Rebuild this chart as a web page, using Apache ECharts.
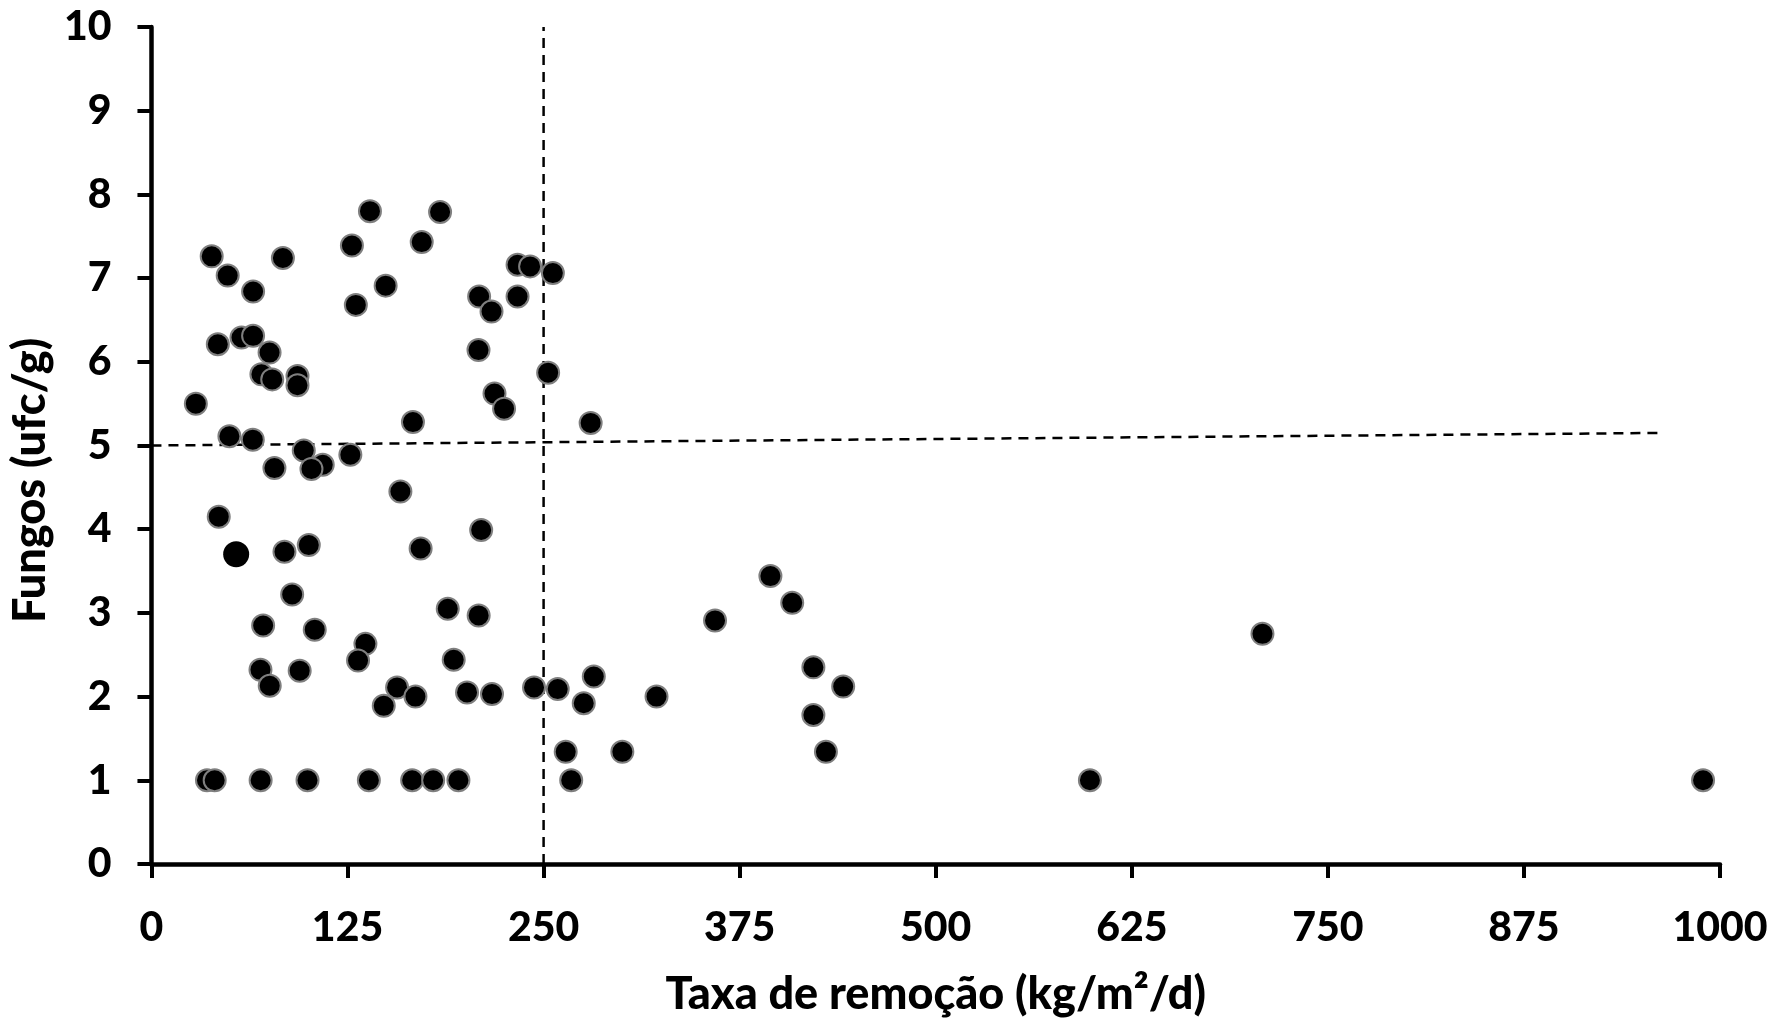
<!DOCTYPE html>
<html>
<head>
<meta charset="utf-8">
<script src="https://cdn.jsdelivr.net/npm/echarts@6/dist/echarts.min.js"></script>
<style>
html,body{margin:0;padding:0;background:#fff;}
#chart{width:1773px;height:1022px;}
</style>
</head>
<body>
<div id="chart"></div>
<script>
// ---- data ----
const xAxisTitle = 'Taxa de remoção (kg/m²/d)';
const yAxisTitle = 'Fungos (ufc/g)';
const xTicks = [0, 125, 250, 375, 500, 625, 750, 875, 1000];
const yTicks = [0, 1, 2, 3, 4, 5, 6, 7, 8, 9, 10];

// [taxa de remoção, fungos]
const samples = [
  [28.3, 5.50], [38.4, 7.26], [48.6, 7.03], [64.8, 6.84], [83.8, 7.24],
  [42.3, 6.21], [57.4, 6.29], [64.8, 6.31], [75.3, 6.11], [70.1, 5.85],
  [77.0, 5.79], [93.1, 5.83], [93.1, 5.72], [127.8, 7.39], [139.3, 7.80],
  [130.3, 6.68], [149.3, 6.91], [172.3, 7.43], [184.0, 7.79], [208.9, 6.78],
  [216.8, 6.60], [233.4, 7.16], [241.4, 7.14], [233.4, 6.78], [255.9, 7.06],
  [208.5, 6.14], [252.9, 5.87], [218.7, 5.62], [224.8, 5.44], [166.7, 5.28],
  [280.0, 5.27], [49.7, 5.11], [64.6, 5.07], [97.1, 4.94], [78.4, 4.73],
  [109.2, 4.77], [102.0, 4.72], [126.8, 4.89], [158.7, 4.45], [42.9, 4.15],
  [84.8, 3.73], [100.3, 3.81], [171.6, 3.77], [210.2, 3.99],
  [89.7, 3.22], [71.2, 2.85], [104.1, 2.80], [136.4, 2.63], [131.7, 2.43],
  [188.9, 3.05], [208.6, 2.97], [192.7, 2.44], [69.5, 2.32], [75.4, 2.13],
  [94.5, 2.31], [148.1, 1.89], [156.6, 2.11], [168.3, 2.00], [201.2, 2.05],
  [217.1, 2.03], [243.9, 2.11], [259.0, 2.09], [275.6, 1.92], [282.0, 2.24],
  [264.1, 1.34], [267.6, 1.00], [300.2, 1.34], [322.0, 2.00], [359.3, 2.91],
  [394.6, 3.44], [408.5, 3.12], [422.0, 2.35], [441.0, 2.12], [422.0, 1.78],
  [430.0, 1.34], [598.3, 1.00], [708.3, 2.75], [989.2, 1.00],
  [35.4, 1.00], [40.3, 1.00], [69.6, 1.00], [99.5, 1.00], [138.6, 1.00],
  [166.2, 1.00], [179.6, 1.00], [195.7, 1.00]
];
// one point drawn without the grey outline
const borderlessSample = [[54.0, 3.70]];

// dashed reference lines
const refLineRemoval = [[250, 0], [250, 10]];
const refLineFungi = [[0, 5.0], [963, 5.15]];

// ---- chart ----
const FONT = 'Lato';
const WEIGHT = 900;
const chart = echarts.init(document.getElementById('chart'), null, {renderer: 'canvas'});
const axisCommon = {
  axisLine: {show: true, onZero: false, lineStyle: {color: '#000', width: 4.5}},
  axisTick: {show: true, inside: false, length: 14, lineStyle: {color: '#000', width: 4}},
  splitLine: {show: false},
  nameLocation: 'middle',
  nameTextStyle: {color: '#000', fontFamily: FONT, fontWeight: WEIGHT, fontSize: 45}
};
const plain = v => String(v);
chart.setOption({
  animation: false,
  backgroundColor: '#fff',
  grid: {left: 151, right: 53, top: 27, bottom: 145, containLabel: false},
  xAxis: Object.assign({}, axisCommon, {
    type: 'value', min: xTicks[0], max: xTicks[xTicks.length - 1], interval: xTicks[1] - xTicks[0],
    name: xAxisTitle, nameGap: 108,
    axisLabel: {color: '#000', fontFamily: FONT, fontWeight: WEIGHT, fontSize: 41, margin: 43, formatter: plain}
  }),
  yAxis: Object.assign({}, axisCommon, {
    type: 'value', min: yTicks[0], max: yTicks[yTicks.length - 1], interval: yTicks[1] - yTicks[0],
    name: yAxisTitle, nameGap: 92,
    nameTextStyle: {color: '#000', fontFamily: FONT, fontWeight: WEIGHT, fontSize: 45, padding: [0, 70, 0, 0]},
    axisLabel: {color: '#000', fontFamily: FONT, fontWeight: WEIGHT, fontSize: 41, margin: 40, formatter: plain}
  }),
  series: [
    {
      type: 'line', data: refLineRemoval, symbol: 'none', silent: true, z: 1,
      lineStyle: {color: '#000', width: 2.5, type: [10, 7]}
    },
    {
      type: 'line', data: refLineFungi, symbol: 'none', silent: true, z: 1,
      lineStyle: {color: '#000', width: 2.5, type: [10, 7]}
    },
    {
      type: 'scatter', data: samples, symbol: 'circle', symbolSize: 22, z: 3,
      itemStyle: {color: '#000', borderColor: '#7f7f7f', borderWidth: 2, opacity: 1}
    },
    {
      type: 'scatter', data: borderlessSample, symbol: 'circle', symbolSize: 26, z: 3,
      itemStyle: {color: '#000', borderWidth: 0, opacity: 1}
    }
  ]
});
</script>
</body>
</html>
